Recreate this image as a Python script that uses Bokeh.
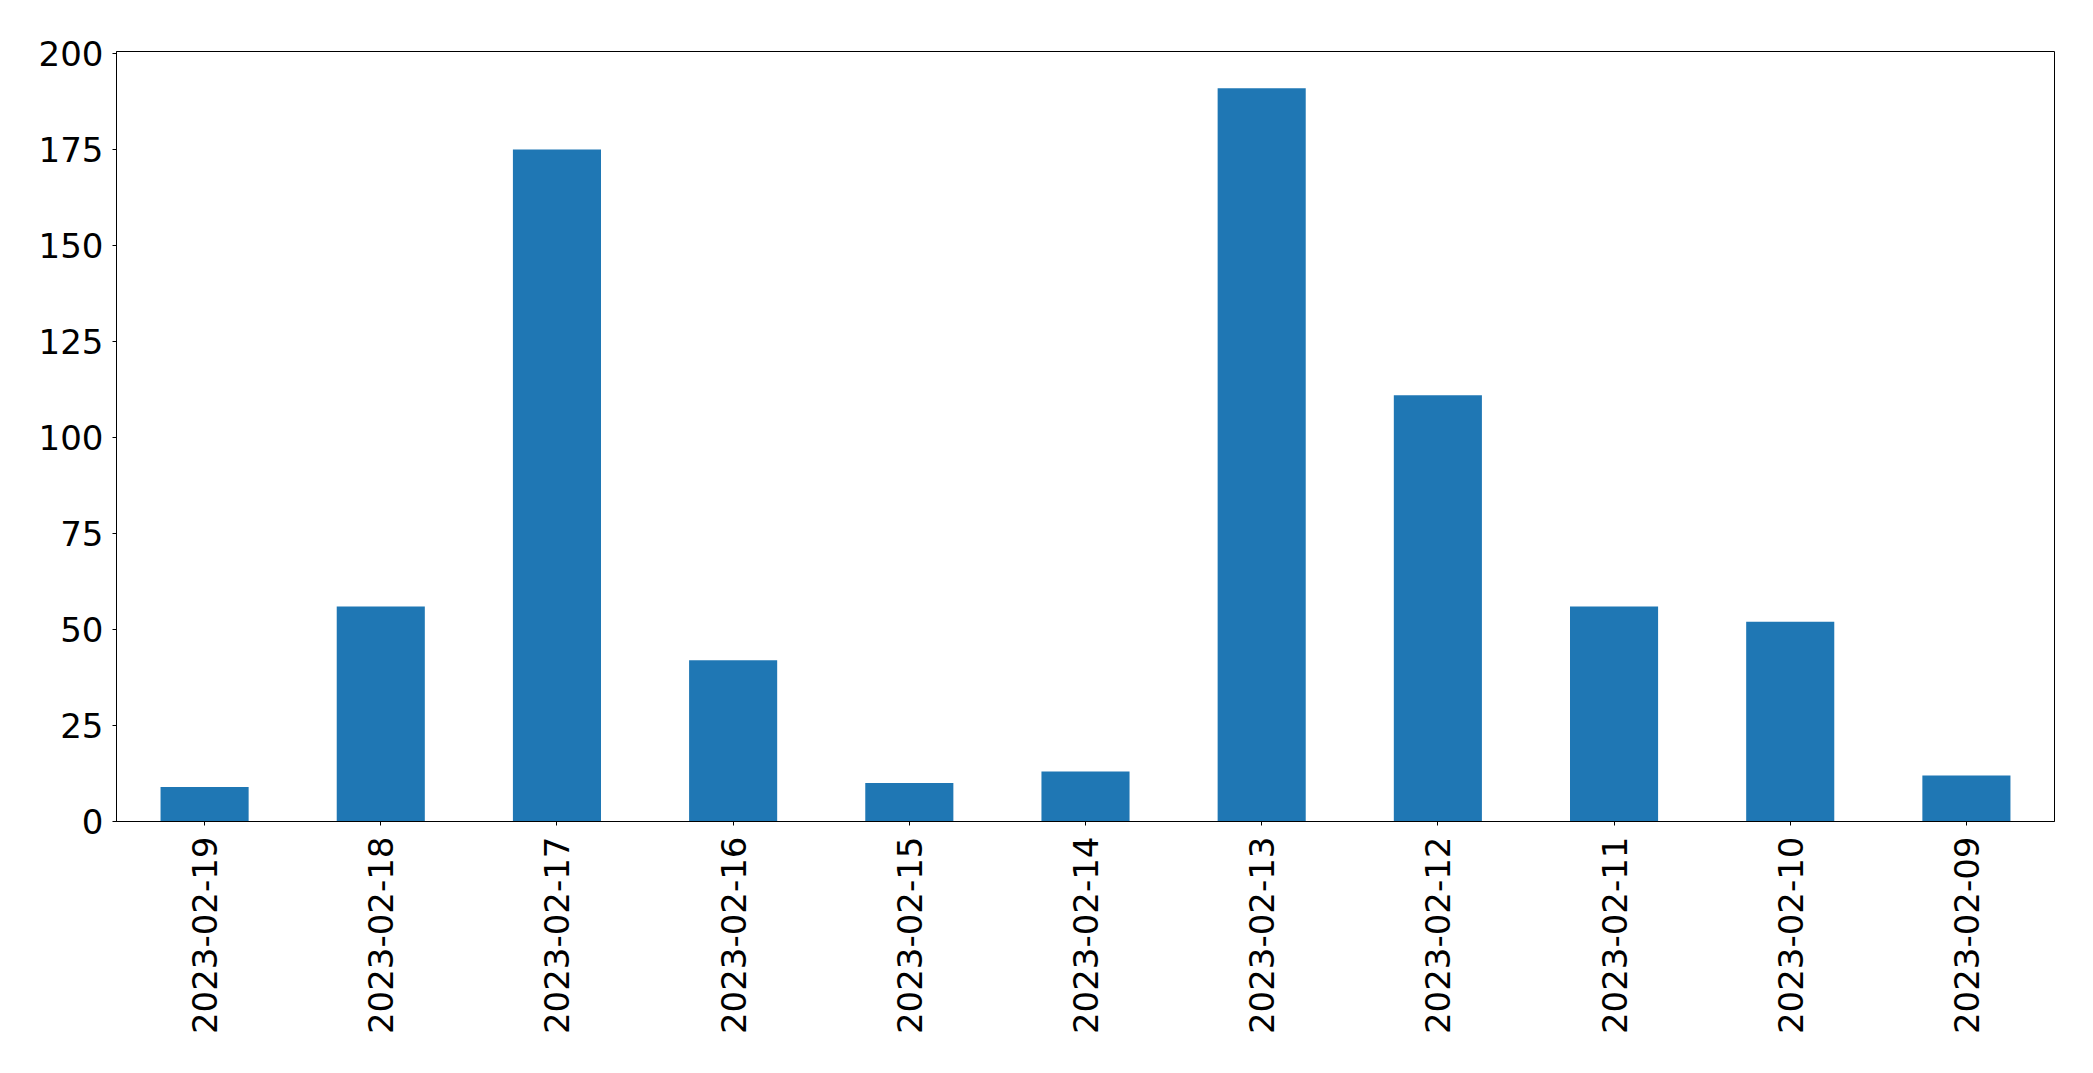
import math
from bokeh.plotting import figure
from bokeh.models import ColumnDataSource, FactorRange, Range1d, FixedTicker
from bokeh.embed import file_html
from bokeh.resources import INLINE

dates = ["2023-02-19", "2023-02-18", "2023-02-17", "2023-02-16", "2023-02-15",
         "2023-02-14", "2023-02-13", "2023-02-12", "2023-02-11", "2023-02-10",
         "2023-02-09"]
counts = [9, 56, 175, 42, 10, 13, 191, 111, 56, 52, 12]
y_ticks = [0, 25, 50, 75, 100, 125, 150, 175, 200]

source = ColumnDataSource(data=dict(date=dates, count=counts))

p = figure(
    x_range=FactorRange(*dates, range_padding=0),
    y_range=Range1d(0, 200.55),
    width=2068, height=1053,
    output_backend="svg", toolbar_location=None,
    min_border_left=116, min_border_top=51, min_border_right=14, min_border_bottom=232,
)
p.vbar(x="date", top="count", width=0.5, source=source,
       fill_color="#1f77b4", line_color=None)

p.xgrid.visible = False
p.ygrid.visible = False
p.outline_line_color = "black"
p.outline_line_alpha = 1
p.outline_line_width = 1
p.background_fill_color = "white"
p.border_fill_color = "white"

for ax in (p.xaxis[0], p.yaxis[0]):
    ax.axis_line_color = "black"
    ax.axis_line_width = 1
    ax.major_tick_line_color = "black"
    ax.major_tick_line_width = 1
    ax.major_tick_out = 4
    ax.major_tick_in = 0
    ax.minor_tick_line_color = None
    ax.major_label_text_font = "DejaVu Sans"
    ax.major_label_text_color = "black"
    ax.major_label_text_font_size = "34px"

p.yaxis[0].ticker = FixedTicker(ticks=y_ticks)
p.yaxis[0].major_label_standoff = 9
p.xaxis[0].major_label_orientation = math.pi / 2
p.xaxis[0].major_label_standoff = 11

open("out.html", "w").write(file_html(p, INLINE))
